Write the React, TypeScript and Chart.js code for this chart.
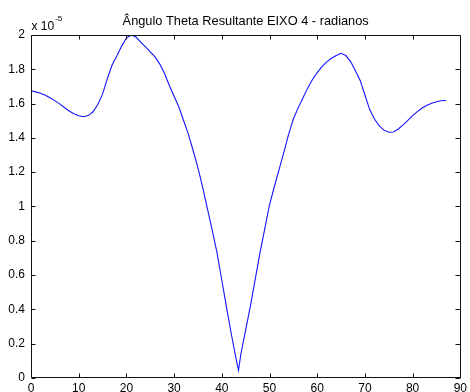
import React, { useEffect, useRef } from "react";
import { Chart, registerables } from "chart.js";

Chart.register(...registerables);

// Angle of the joint (degrees on the x axis)
const ANGLE_DEG: number[] = [
  0, 1, 2, 3, 4, 5, 6, 7, 8, 9, 10, 11, 12, 13, 14, 15, 16, 17, 18, 19, 20,
  21, 22, 23, 24, 25, 26, 27, 28, 29, 30, 31, 32, 33, 34, 35, 36, 37, 38, 39,
  40, 41, 42, 43, 43.5, 44, 45, 46, 47, 48, 49, 50, 51, 52, 53, 54, 55, 56,
  57, 58, 59, 60, 61, 62, 63, 64, 65, 66, 67, 68, 69, 70, 71, 72, 73, 74, 75,
  76, 77, 78, 79, 80, 81, 82, 83, 84, 85, 86, 87,
];

// Resulting theta, in units of 10^-5 rad
const THETA_E5: number[] = [
  1.675, 1.668, 1.66, 1.648, 1.634, 1.617, 1.598, 1.577, 1.557, 1.541, 1.529,
  1.523, 1.53, 1.552, 1.595, 1.655, 1.745, 1.825, 1.878, 1.935, 1.982, 2.0,
  1.988, 1.958, 1.93, 1.902, 1.872, 1.83, 1.775, 1.705, 1.643, 1.58, 1.5, 1.42,
  1.325, 1.225, 1.11, 0.985, 0.86, 0.73, 0.57, 0.41, 0.255, 0.11, 0.045, 0.14,
  0.28, 0.42, 0.575, 0.73, 0.87, 1.01, 1.115, 1.215, 1.315, 1.42, 1.51, 1.575,
  1.632, 1.69, 1.74, 1.78, 1.815, 1.843, 1.864, 1.88, 1.893, 1.88, 1.845,
  1.792, 1.735, 1.65, 1.565, 1.51, 1.47, 1.445, 1.433, 1.434, 1.452, 1.476,
  1.502, 1.53, 1.553, 1.574, 1.59, 1.602, 1.611, 1.616, 1.618,
];

const TITLE = "Ângulo Theta Resultante EIXO 4 - radianos";
const EXPONENT = "-5";
const X_RANGE: [number, number, number] = [0, 90, 10];
const Y_RANGE: [number, number, number] = [0, 2, 0.2];

const FONT = '"Liberation Sans", Arial, Helvetica, sans-serif';

// Box around the axes with inward tick marks on all four sides,
// plus the "x 10^-5" multiplier above the y axis.
const boxPlugin = {
  id: "matlabBox",
  afterDraw(chart: any) {
    const { ctx, chartArea: a, scales } = chart;
    const xs = scales.x;
    const ys = scales.y;
    const L = Math.round(a.left) + 0.5;
    const R = Math.round(a.right) + 0.5;
    const T = Math.round(a.top) + 0.5;
    const B = Math.round(a.bottom) - 0.5;
    ctx.save();
    ctx.strokeStyle = "#111";
    ctx.lineWidth = 1;
    ctx.beginPath();
    ctx.rect(L, T, R - L, B - T);
    for (const t of xs.ticks) {
      const p = Math.round(xs.getPixelForValue(t.value)) + 0.5;
      ctx.moveTo(p, B);
      ctx.lineTo(p, B - 4);
      ctx.moveTo(p, T);
      ctx.lineTo(p, T + 4);
    }
    for (const t of ys.ticks) {
      const p = Math.round(ys.getPixelForValue(t.value)) + 0.5;
      ctx.moveTo(L, p);
      ctx.lineTo(L + 4, p);
      ctx.moveTo(R, p);
      ctx.lineTo(R - 5, p);
    }
    ctx.stroke();

    ctx.fillStyle = "#000";
    ctx.textBaseline = "alphabetic";
    ctx.textAlign = "left";
    ctx.font = `12px ${FONT}`;
    const base = "x 10";
    ctx.fillText(base, L, 30);
    const w = ctx.measureText(base).width;
    ctx.font = `8px ${FONT}`;
    ctx.fillText(EXPONENT, L + w + 1, 21);
    ctx.restore();
  },
};

export default function App() {
  const ref = useRef<HTMLCanvasElement | null>(null);

  useEffect(() => {
    if (!ref.current) return;
    const points = ANGLE_DEG.map((x, i) => ({ x, y: THETA_E5[i] }));
    const chart = new Chart(ref.current, {
      type: "line",
      data: {
        datasets: [
          {
            data: points,
            borderColor: "rgb(20,20,255)",
            borderWidth: 1.1,
            pointRadius: 0,
            tension: 0,
            fill: false,
          },
        ],
      },
      options: {
        responsive: false,
        animation: false,
        layout: { padding: { left: 0, right: 7, top: 0, bottom: 0 } },
        plugins: {
          legend: { display: false },
          tooltip: { enabled: false },
          title: {
            display: true,
            text: TITLE,
            fullSize: false,
            color: "#000",
            font: { family: FONT, size: 12.8, weight: "normal" },
            padding: { top: 13.5, bottom: 6.1 },
          },
        },
        scales: {
          x: {
            type: "linear",
            min: X_RANGE[0],
            max: X_RANGE[1],
            grid: { display: false, drawTicks: false },
            border: { display: false },
            ticks: {
              stepSize: X_RANGE[2],
              padding: 3,
              color: "#000",
              maxRotation: 0,
              font: { family: FONT, size: 12 },
            },
            afterFit(scale: any) {
              scale.height = 14;
            },
          },
          y: {
            type: "linear",
            min: Y_RANGE[0],
            max: Y_RANGE[1],
            grid: { display: false, drawTicks: false },
            border: { display: false },
            ticks: {
              stepSize: Y_RANGE[2],
              padding: 6,
              color: "#000",
              font: { family: FONT, size: 12 },
              callback: (v: any) => String(Number(Number(v).toFixed(1))),
            },
            afterFit(scale: any) {
              scale.width = 31;
            },
          },
        },
      },
      plugins: [boxPlugin],
    });
    return () => chart.destroy();
  }, []);

  return (
    <div
      style={{
        position: "absolute",
        left: 0,
        top: 0,
        width: 470,
        height: 392,
        background: "#fff",
        overflow: "hidden",
      }}
    >
      <canvas ref={ref} width={470} height={392} style={{ display: "block" }} />
    </div>
  );
}
